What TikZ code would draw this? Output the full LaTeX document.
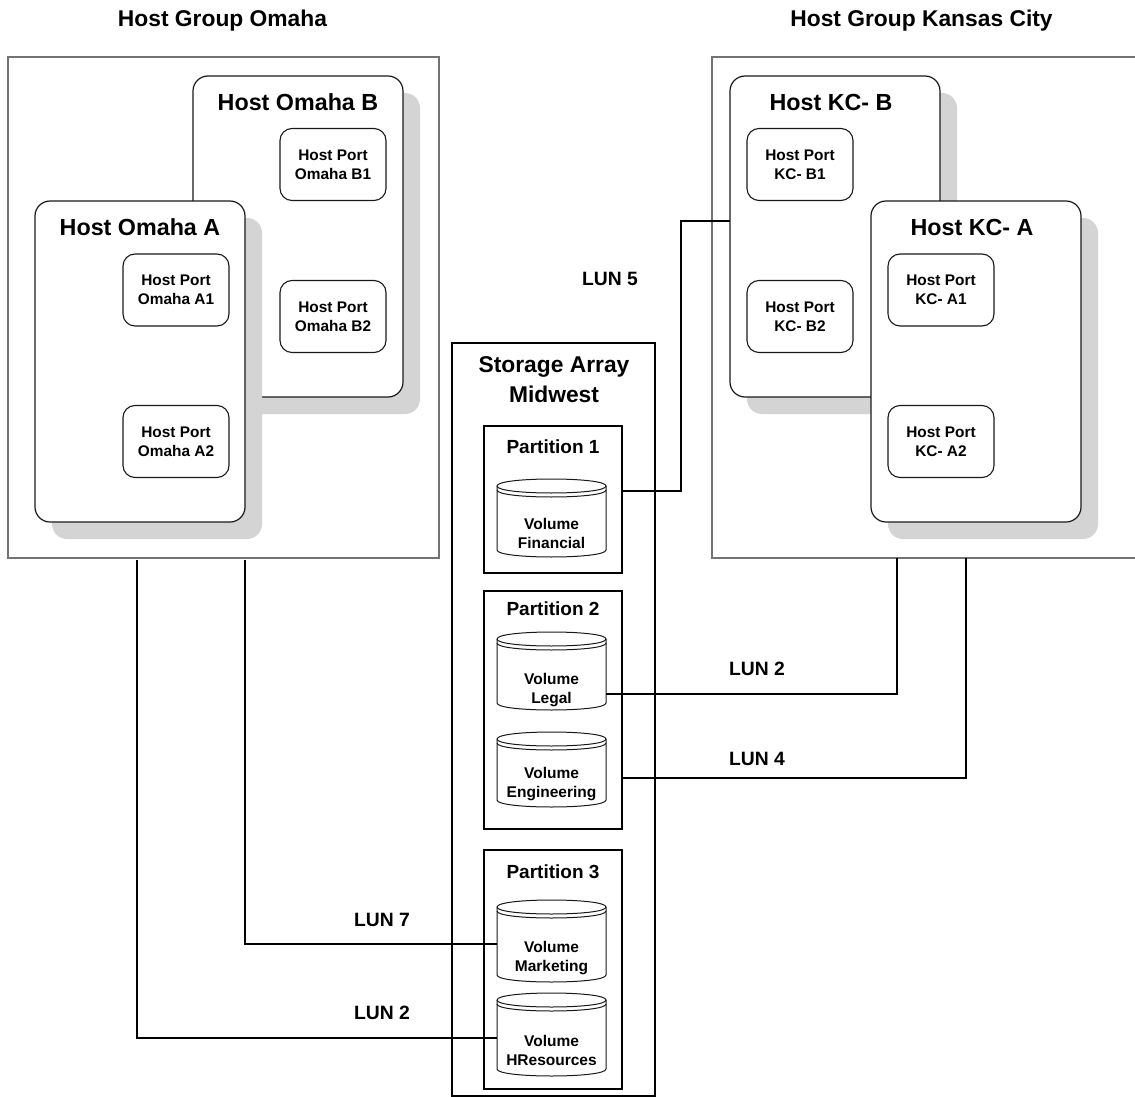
\documentclass[tikz,border=0pt]{standalone}
\usepackage{fontspec}
\setmainfont{Liberation Sans}
\usetikzlibrary{shadows}
\newcommand\volcyl[5]{% name, top, bottom, label, text y
  \node[volbox, minimum height={#3-#2}] (#1) at (551.5,{(#2+#3)/2}) {};
  \draw[volline] (497,#2+7) -- (497,#3-7) .. controls (497,#3+2.33) and (606,#3+2.33) .. (606,#3-7)
     -- (606,#2+7) .. controls (606,#2-2.33) and (497,#2-2.33) .. cycle;
  \draw[volline, fill=none] (497,#2+7) .. controls (497,#2+16.33) and (606,#2+16.33) .. (606,#2+7);
  \draw[volline, fill=none] (497,#2+11) .. controls (497,#2+20.33) and (606,#2+20.33) .. (606,#2+11);
  \node[voltext] (#1t) at (551.5,#5) {Volume\\#4};
}
\begin{document}
\begin{tikzpicture}[x=1pt,y=-1pt,
  every node/.style={inner sep=0pt, outer sep=0pt},
  grp/.style={draw=black!55, line width=1.3pt, rectangle},
  host/.style={draw=black!90, line width=1.2pt, rounded corners=15pt, fill=white,
     minimum width=210pt, minimum height=321pt,
     drop shadow={shadow xshift=17pt, shadow yshift=-17pt, fill=black!17, opacity=1}},
  port/.style={draw=black!90, line width=1.1pt, rounded corners=12pt, fill=white,
     minimum width=106pt, minimum height=72pt, align=center,
     font=\bfseries\fontsize{15.4}{19}\selectfont},
  htitle/.style={font=\bfseries\fontsize{23.3}{28}\selectfont},
  gtitle/.style={font=\bfseries\fontsize{22.8}{27}\selectfont, anchor=base},
  arrbox/.style={draw, line width=2.4pt, minimum width=203pt, minimum height=753pt},
  arrtitle/.style={align=center, font=\bfseries\fontsize{22.8}{30}\selectfont},
  partbox/.style={draw, line width=1.8pt, minimum width=138pt},
  ptitle/.style={font=\bfseries\fontsize{19}{23}\selectfont},
  volbox/.style={minimum width=109pt},
  volline/.style={draw=black!90, line width=1pt, fill=white},
  voltext/.style={align=center, font=\bfseries\fontsize{15.5}{19}\selectfont},
  lun/.style={font=\bfseries\fontsize{19.3}{23}\selectfont},
  link/.style={line width=2pt},
  linkl/.style={line width=1.4pt}
]
\useasboundingbox (0,0) rectangle (1135,1097);
\fill[white] (0,0) rectangle (1135,1097);

% group titles
\node[gtitle] (tomaha) at (222.5,27) {Host Group Omaha};
\node[gtitle] (tkc) at (921.5,27) {Host Group Kansas City};

% group boxes
\node[grp, minimum width=431pt, minimum height=501pt] (omg) at (223.5,307.5) {};
\node[grp, minimum width=428pt, minimum height=501pt] (kcg) at (926,307.5) {};

% Omaha hosts
\node[host] (ob) at (298,236.5) {};
\node[htitle] (obt) at (298,102) {Host Omaha B};
\node[port] (pb1) at (333,164.5) {Host Port\\Omaha B1};
\node[port] (pb2) at (333,316.5) {Host Port\\Omaha B2};

\node[host] (oa) at (140,361.5) {};
\node[htitle] (oat) at (140,227) {Host Omaha A};
\node[port] (pa1) at (176,290) {Host Port\\Omaha A1};
\node[port] (pa2) at (176,441.5) {Host Port\\Omaha A2};

% KC hosts
\node[host] (kcb) at (835,236.5) {};
\node[htitle] (kcbt) at (831,102) {Host KC- B};
\node[port] (kb1) at (800,164.5) {Host Port\\KC- B1};
\node[port] (kb2) at (800,316.5) {Host Port\\KC- B2};

\node[host] (kca) at (976,361.5) {};
\node[htitle] (kcat) at (972,227) {Host KC- A};
\node[port] (ka1) at (941,290) {Host Port\\KC- A1};
\node[port] (ka2) at (941,441.5) {Host Port\\KC- A2};

% storage array
\node[arrbox] (arr) at (553.5,719.5) {};
\node[arrtitle] (arrt) at (554,380) {Storage Array\\Midwest};

\node[partbox, minimum height=147pt] (p1) at (553,499.5) {};
\node[ptitle] (p1t) at (553,447) {Partition 1};
\node[partbox, minimum height=238pt] (p2) at (553,710) {};
\node[ptitle] (p2t) at (553,609) {Partition 2};
\node[partbox, minimum height=239pt] (p3) at (553,969.5) {};
\node[ptitle] (p3t) at (553,872) {Partition 3};

\volcyl{fin}{479}{557}{Financial}{533}
\volcyl{leg}{632}{710}{Legal}{690}
\volcyl{eng}{732}{807}{Engineering}{784}
\volcyl{mkt}{900}{982}{Marketing}{958}
\volcyl{hr}{993}{1076}{HResources}{1050.5}

% connectors
\draw[link] ([yshift=8.5pt]p1.east) -- ++(59,0) |- ([yshift=15.5pt]kcb.west);
\draw[link] ([yshift=-23pt]leg.east) -| ([xshift=-29pt]kcg.south);
\draw[link] ([yshift=-68pt]p2.east) -| ([xshift=40pt]kcg.south);
\draw[linkl] ([xshift=21.5pt,yshift=-2pt]omg.south) |- ([yshift=-3pt]mkt.west);
\draw[linkl] ([xshift=-86.5pt,yshift=-2pt]omg.south) |- ([yshift=-3.5pt]hr.west);

% LUN labels
\node[lun] (l5) at (610,279) {LUN 5};
\node[lun] (l2r) at (757,669) {LUN 2};
\node[lun] (l4) at (757,759) {LUN 4};
\node[lun] (l7) at (382,920) {LUN 7};
\node[lun] (l2l) at (382,1013) {LUN 2};
\end{tikzpicture}
\end{document}
